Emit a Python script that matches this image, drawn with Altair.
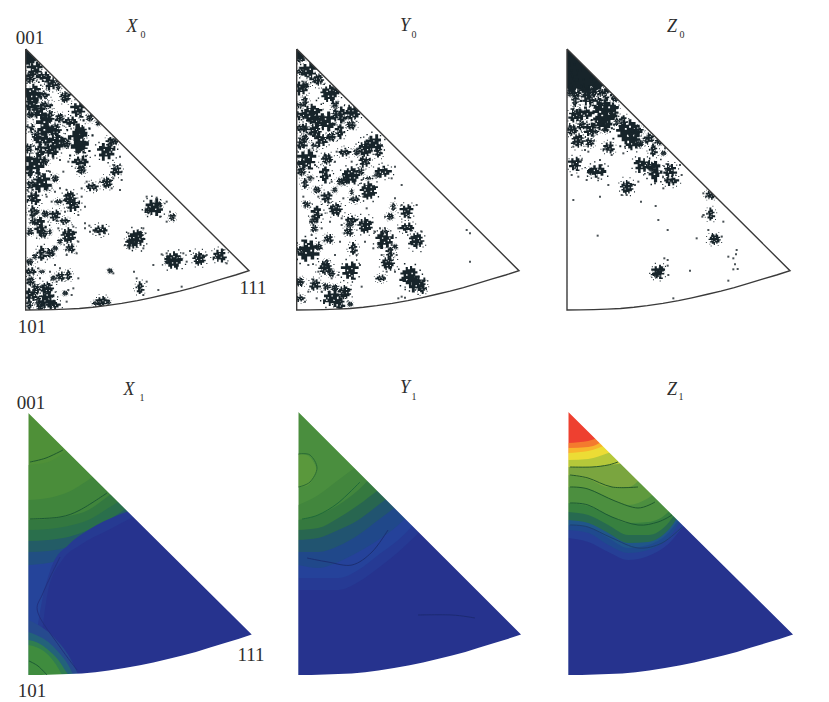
import altair as alt
import pandas as pd

# panel outlines: left edge x, apex y, bottom-left y, corner x, corner y
PANELS = {
    "X0": (25.7, 49, 310, 249, 270.7),
    "Y0": (296.7, 49, 310, 519, 270.7),
    "Z0": (567, 49, 310, 790, 270.7),
    "X1": (28.3, 413, 675, 251.7, 634.5),
    "Y1": (298.3, 412, 675, 521, 634.5),
    "Z1": (568.3, 412, 675, 793, 634.5),
}
ARC_T = [0, .06, .12, .18, .24, .3, .36, .43, .5, .56, .63, .69, .75, .81, .88, .94, 1]
ARC_RISE = [0, .002, .01, .022, .04, .07, .11, .17, .24, .31, .40, .48, .57, .67, .79, .89, 1]

# pixel-stepped marker outlines for the clusters of grains, with gaps and stray grains
OUTLINES = [
 "M-.4,-1 L-.2,-1 L-.2,-.8 L0,-.8 L0,-.6 L.2,-.6 L.2,-.9 L.4,-.9 L.4,-.7 L.6,-.7 L.6,-.4 L.9,-.4 L.9,-.2 L.7,-.2 L.7,0 L1,0 L1,.2 L.8,.2 L.8,.5 L.5,.5 L.5,.7 L.3,.7 L.3,.5 L.1,.5 L.1,.9 L-.1,.9 L-.1,.7 L-.4,.7 L-.4,.5 L-.7,.5 L-.7,.3 L-.5,.3 L-.5,.1 L-.9,.1 L-.9,-.1 L-.7,-.1 L-.7,-.4 L-.5,-.4 L-.5,-.7 L-.4,-.7 Z",
 "M-.8,-.6 L-.5,-.6 L-.5,-.9 L-.2,-.9 L-.2,-.5 L.1,-.5 L.1,-.8 L.3,-.8 L.3,-.4 L.7,-.4 L.7,-.6 L.9,-.6 L.9,-.1 L.6,-.1 L.6,.1 L.8,.1 L.8,.4 L.4,.4 L.4,.8 L.1,.8 L.1,.5 L-.2,.5 L-.2,.95 L-.5,.95 L-.5,.5 L-.8,.5 L-.8,.2 L-.55,.2 L-.55,-.1 L-1,-.1 L-1,-.35 L-.8,-.35 Z",
 "M-1,-.2 L-.7,-.2 L-.7,-.5 L-.4,-.5 L-.4,-.3 L-.1,-.3 L-.1,-.7 L.2,-.7 L.2,-.4 L.5,-.4 L.5,-.2 L1,-.2 L1,.1 L.7,.1 L.7,.35 L.35,.35 L.35,.6 L.1,.6 L.1,.35 L-.2,.35 L-.2,.7 L-.5,.7 L-.5,.35 L-.8,.35 L-.8,.1 L-1,.1 Z",
]
GRAINS = [
 [(.3,.2),(-.3,-.3),(0,.35),(.15,-.3),(-.35,.2),(1.2,-.5),(1.15,.5),(.6,.95),(-.5,1.05),(-1.25,.5),(-1.2,-.45),(-.85,-.9),(.7,-1.05),(-.7,.75)],
 [(.35,.05),(-.25,-.2),(-.05,.25),(.5,-.2),(1.15,-.25),(1.0,.65),(.65,.9),(-.75,.8),(-1.2,.4),(-1.15,-.7),(.6,-.95),(-.8,-.95),(.15,1.15)],
 [(.25,.05),(-.35,.05),(0,-.4),(-.1,.2),(1.2,.35),(.95,-.55),(.55,-.75),(-.5,-.85),(-1.15,-.55),(-1.2,.5),(-.85,.75),(.65,.75),(.2,.95),(-.15,-1)],
]

def square(x, y, h=.07):
    return f"M{x-h:.2f},{y-h:.2f} L{x-h:.2f},{y+h:.2f} L{x+h:.2f},{y+h:.2f} L{x+h:.2f},{y-h:.2f} Z"

SHAPES = [o + " " + " ".join(square(x, y) for x, y in g) for o, g in zip(OUTLINES, GRAINS)]

CROP = {"X0": (10, 15), "Y0": (285, 15), "Z0": (555, 15)}
BLOBS = {
 "X0": [(58,135,12),(75,165,16),(100,185,14),(60,190,12),(125,205,14),(145,215,8),(70,235,20),(65,265,16),(100,240,12),(165,245,12),
  (85,290,16),(120,305,12),(60,300,8),(205,285,16),(180,320,14),(240,310,8),(265,325,6),(105,335,24),(135,345,14),(80,360,10),
  (100,375,18),(140,380,18),(120,405,16),(205,370,28),(210,350,14),(215,395,14),(210,440,16),(215,465,10),(75,445,22),(60,470,12),
  (105,440,8),(95,500,20),(65,505,10),(135,490,8),(70,550,14),(68,590,12),(105,597,8),(135,603,12),(145,560,8),(180,550,14),
  (190,570,14),(90,635,18),(100,655,10),(60,650,8),(165,618,10),(175,660,16),(180,700,10),(95,715,14),(120,715,10),(75,725,6),
  (60,770,12),(62,800,10),(65,840,14),(58,870,10),(112,820,14),(110,850,18),(130,870,14),(90,875,8),(150,785,10),(175,780,10),
  (165,835,6),(275,862,12),(258,865,8),(295,862,6),(290,410,18),(300,385,12),(315,378,8),(318,465,12),(247,515,12),(290,502,12),
  (430,577,18),(415,585,8),(445,570,8),(487,607,8),(270,645,14),(380,672,18),(365,685,12),(392,660,8),(492,735,18),(475,735,8),
  (510,732,6),(567,730,14),(628,722,14),(390,818,12),(300,768,6),
  (60,340,10),(110,270,12),(150,310,10),(58,400,10),(90,410,14),(170,385,10),(60,520,8),(115,520,8),(80,590,6),(70,620,8),(120,650,6),
  (135,700,6),(150,680,6),(95,770,6),(130,790,6),(80,820,10),(85,860,10),(60,740,8)],
 "Y0": [(45,130,10),(70,170,18),(45,170,9),(100,195,12),(50,220,14),(60,260,10),(135,235,18),(155,225,10),(50,300,14),(80,295,20),
  (120,320,20),(170,300,16),(200,295,16),(150,270,8),(47,340,12),(90,350,14),(110,375,14),(165,350,14),(140,365,10),(50,385,12),
  (180,412,12),(240,400,16),(265,385,18),(280,408,12),(125,432,12),(65,435,20),(45,445,10),(50,470,10),(240,440,12),(120,480,16),
  (200,480,18),(180,495,10),(295,470,16),(250,525,18),(275,480,6),(60,505,10),(95,525,8),(125,548,12),(208,553,10),(150,525,6),
  (65,568,8),(95,598,16),(153,583,14),(88,640,8),(200,615,12),(240,630,16),(190,650,10),(325,575,8),(315,605,8),(365,590,14),
  (365,638,14),(395,678,16),(300,675,18),(315,715,12),(310,745,14),(70,705,22),(45,705,10),(100,695,8),(130,672,10),(205,700,12),
  (120,760,14),(195,768,18),(287,790,10),(375,785,20),(395,805,18),(412,818,12),(45,800,10),(90,808,12),(45,850,10),(178,830,14),
  (140,850,18),(165,865,14),(195,868,6),
  (60,340,10),(100,320,14),(60,370,8),(90,395,8),(150,300,12),(200,330,10),(60,210,8),(45,270,8),(215,410,8),(225,470,8),(200,530,6),
  (165,500,8),(75,490,6),(250,490,6),(150,820,8),(125,815,8),(125,745,8),(140,775,8),(85,615,8),(300,650,8),(285,690,6),(330,695,6),(200,625,6),(190,630,6)],
 "Z0": [(50,130,14),(70,150,30),(55,205,18),(100,200,30),(130,205,14),(155,240,12),(180,250,8),(60,300,14),(90,295,18),(150,290,26),
  (140,320,20),(175,285,14),(50,345,12),(105,345,14),(150,345,8),(70,378,14),(105,382,10),(205,320,12),(225,350,26),(235,380,16),
  (250,345,10),(280,370,12),(160,398,12),(295,405,12),(325,415,6),(60,448,14),(125,468,18),(108,470,8),(262,450,16),(300,470,20),
  (290,455,10),(345,465,14),(350,497,14),(215,515,14),(465,540,10),(467,597,12),(478,673,12),(310,772,14),(300,778,8),(320,765,6),
  (100,250,14),(60,260,10),(130,265,14),(80,330,10),(120,350,8),(255,385,8),(310,380,8),(185,320,8),(45,235,8),(65,240,10),(90,225,12),(115,230,10),(140,232,8)],
}
SPECKS = {
 "X0": [(150,435),(175,440),(130,430),(160,470),(120,470),(150,520),(135,530),(170,525),(110,545),(125,560),(215,545),(225,575),(165,590),
  (205,600),(225,625),(240,650),(190,635),(145,640),(205,680),(200,715),(170,720),(135,750),(120,770),(100,770),(150,760),(205,790),(90,790),
  (140,800),(85,760),(330,450),(335,495),(310,490),(215,520),(260,525),(230,500),(330,525),(270,500),(305,520),(470,560),(480,590),(450,605),
  (470,620),(410,545),(440,548),(400,640),(355,655),(345,690),(400,700),(455,718),(470,715),(520,715),(540,708),(530,740),(590,720),(650,745),
  (640,705),(430,750),(372,770),(295,765),(310,775),(380,790),(410,800),(400,840),(445,825),(515,815),(175,825),(185,840),(190,820),(170,860),
  (330,365),(280,395),(330,425),(335,470),(238,632),(225,640),(255,650),(285,655)],
 "Y0": [(90,450),(150,440),(155,410),(200,440),(330,455),(320,490),(235,545),(350,510),(175,550),(100,545),(245,580),(330,550),(350,570),
  (300,605),(395,570),(410,650),(380,665),(340,640),(270,650),(285,640),(240,680),(265,700),(165,680),(150,720),(215,720),(160,780),(140,790),
  (100,770),(225,750),(110,830),(70,750),(70,830),(60,860),(95,850),(335,720),(330,770),(350,845),(340,850),(360,848),(545,645),(555,655),
  (555,740),(230,815),(300,790),(305,770),(290,720),(320,690),(300,640),(135,620),(110,640),(80,660),(75,620),(170,610),(170,630),(55,545),
  (85,490),(140,500),(230,495)],
 "Z0": [(135,435),(80,435),(50,480),(70,485),(95,495),(130,490),(160,510),(200,540),(215,540),(240,510),(250,500),(135,545),(55,555),(258,560),
  (302,573),(310,615),(338,645),(128,662),(325,520),(300,505),(205,415),(170,420),(90,405),(55,395),(445,600),(460,645),(425,670),(505,620),
  (500,665),(545,705),(543,718),(535,730),(520,725),(540,748),(548,762),(535,763),(520,797),(405,767),(328,730),(338,735),(338,752),(340,780),
  (355,850),(445,535),(490,540),(442,605),(380,480),(375,450),(330,400),(140,450),(210,395),(100,410)],
}
HOLES = {
 "X0": [(55,215),(60,330),(70,400),(65,420),(120,262),(135,265),(150,280),(170,295),(165,350),(150,420),(55,345),(100,470),(60,525),(120,520)],
 "Y0": [(85,235),(100,225),(120,285),(140,290),(60,190),(160,320),(70,330),(90,400)],
 "Z0": [(45,265),(85,265),(120,265),(195,285),(270,360),(285,385),(160,240)],
}

DX = [0, 20, 40, 60, 80, 100, 120, 150, 230]
# (panel, colour, dx knots, top y, bottom y or None)
BANDS = [
 ("X0","#17242a",[0,6,12],[40,40,40],[65,62,60]),
 ("Y0","#17242a",[0,6,10],[40,40,40],[60,58,56]),
 ("Z0","#17242a",[0,6,12,18,24,30,36,42],[40]*8,[88,93,86,92,84,90,86,92]),
 ("X1","#4f9038",DX,[395]*9,None),
 ("X1","#4a8d3a",DX,[465,462,450,440,420,395,395,395,395],None),
 ("X1","#40853c",DX,[500,498,492,480,465,450,430,395,395],None),
 ("X1","#337840",DX,[520,519,516,510,496,480,460,420,395],None),
 ("X1","#2a6f4c",DX,[530,529,526,520,508,495,478,440,395],None),
 ("X1","#235c66",DX,[541,540,537,530,520,507,490,450,420],None),
 ("X1","#214f82",DX,[552,551,547,540,530,517,500,460,430],None),
 ("X1","#25449a",DX,[565,563,558,550,540,525,508,470,440],None),
 ("X1","#263a92",[6,12,24,40,60,90,120,230],[650,610,565,545,530,515,505,470],[655,660,665,675,680,680,680,680]),
 ("X1","#26338e",[14,20,34,52,80,120,230],[630,590,560,545,530,510,480],[632,635,650,675,680,680,680]),
 ("X1","#264a8e",[0,10,20,30,40,50],[620,625,632,642,655,675],[682]*6),
 ("X1","#23627a",[0,10,20,30,40,47],[632,636,642,652,665,680],[682]*6),
 ("X1","#2f7d50",[0,10,20,30,38,44],[640,643,650,660,672,680],[682]*6),
 ("X1","#3f8c3e",[0,10,20,28,34,38],[645,648,655,665,675,680],[682]*6),
 ("Y1","#4a8e3e",DX,[395]*9,None),
 ("Y1","#5a983c",[0,8,14,19],[454,455,460,470],[487,486,480,470]),
 ("Y1","#42863d",DX,[505,495,480,465,450,430,395,395,395],None),
 ("Y1","#35793f",DX,[520,515,505,490,470,455,440,395,395],None),
 ("Y1","#286650",DX,[530,528,518,505,490,475,460,430,395],None),
 ("Y1","#215470",DX,[540,538,530,520,505,490,475,445,420],None),
 ("Y1","#20488a",DX,[552,552,546,535,520,505,490,460,430],None),
 ("Y1","#25429a",DX,[565,568,562,552,540,525,505,470,440],None),
 ("Y1","#263a94",DX,[578,578,578,570,555,540,520,490,455],None),
 ("Y1","#26338e",DX,[590,590,590,582,568,552,533,500,465],None),
 ("Z1","#ee4030",DX,[395]*9,None),
 ("Z1","#f47a2e",DX,[443,441,430,410,395,395,395,395,395],None),
 ("Z1","#f8b52c",DX,[448,447,437,415,395,395,395,395,395],None),
 ("Z1","#ecdc35",DX,[453,451,443,425,410,395,395,395,395],None),
 ("Z1","#b5c83a",DX,[460,459,453,447,430,410,395,395,395],None),
 ("Z1","#7aa53f",DX,[467,467,465,462,450,430,410,395,395],None),
 ("Z1","#5f9a3e",DX,[475,479,487,487,470,450,430,395,395],None),
 ("Z1","#4c8f3f",DX,[487,489,498,505,498,480,450,410,395],None),
 ("Z1","#37803f",DX,[503,506,515,523,522,512,480,440,410],None),
 ("Z1","#276a50",DX,[512,515,525,535,535,523,490,450,420],None),
 ("Z1","#20568a",DX,[520,523,533,543,542,530,500,460,430],None),
 ("Z1","#1f4a8e",DX,[525,527,538,548,545,533,505,470,440],None),
 ("Z1","#263f96",DX,[530,533,545,553,550,538,510,480,450],None),
 ("Z1","#26338e",DX,[538,542,552,560,556,544,520,490,460],None),
]
CONTOURS = [
 ("#1f5a2e",[30,46,63],[462,458,450]),
 ("#1c5a35",[30,60,80,107],[519,517,510,493]),
 ("#22307e",[60,43,38,60,77],[557,593,613,647,670]),
 ("#1c5a35",[29,38,47],[661,666,675]),
 ("#2a6b35",[298.5,310,317,310,298.5],[454,455,468,482,487]),
 ("#1f6a3a",[302,318,338,360],[519,515,503,482]),
 ("#1c2f72",[307,328,352,372,388],[558,562,565,552,530]),
 ("#1c2a72",[418,452,475],[615,615,618]),
 ("#2a5a2a",[570,592,608,618],[467,467,465,462]),
 ("#245a2a",[570,588,612,638],[475,478,487,487]),
 ("#1f5a2e",[570,588,615,638,655],[487,489,501,508,502]),
 ("#1c5a35",[570,588,612,638,658,672],[503,505,517,525,522,515]),
 ("#1d3f70",[570,588,612,638,662,682],[525,527,538,548,543,527]),
]
LABELS = [("001",30,38),("101",32,327),("111",253,288),("001",31,403),("111",251,655),("101",32,691)]
TITLES = [("X",132,27),("Y",405,26),("Z",672,27),("X",129,390),("Y",405,388),("Z",672,390)]
SUBS = [("0",143,35),("0",414,35),("0",682,35),("1",142,398),("1",414,397),("1",681,397)]
SPREAD = 1.6

def arc_points(p):
    l, a, b, cx, cy = PANELS[p]
    return [(l + t * (cx - l), b - r * (b - cy)) for t, r in zip(ARC_T, ARC_RISE)]

band_rows, mask_rows, outline_rows, contour_rows, blob_rows, speck_rows, hole_rows = [], [], [], [], [], [], []
for i, (p, col, dxs, tops, bots) in enumerate(BANDS):
    l = PANELS[p][0]
    bots = bots or [682] * len(dxs)
    for dx, t, b in zip(dxs, tops, bots):
        band_rows.append(dict(g=i, c=col, x=min(l + dx, PANELS[p][3]), y=t, y2=b))
for p, (l, a, b, cx, cy) in PANELS.items():
    top = a - 22
    mask_rows += [dict(g=p + "t", x=l - 14, y=top, y2=b + 16), dict(g=p + "t", x=l, y=top, y2=b + 16), dict(g=p + "t", x=l + .01, y=top, y2=a),
                  dict(g=p + "t", x=cx, y=top, y2=cy), dict(g=p + "t", x=cx + .01, y=top, y2=b + 16), dict(g=p + "t", x=cx + 14, y=top, y2=b + 16)]
    arc = arc_points(p)
    mask_rows.append(dict(g=p + "b", x=l - 2, y=b, y2=b + 16))
    for x, y in arc:
        mask_rows.append(dict(g=p + "b", x=x, y=y, y2=b + 16))
    mask_rows.append(dict(g=p + "b", x=cx + 2, y=cy - 1, y2=b + 16))
    if p.endswith("0"):
        pts = [(l, a), (l, b)] + arc[1:] + [(l, a)]
        for k, (x, y) in enumerate(pts):
            outline_rows.append(dict(g=p, k=k, x=x, y=y))
for n, (col, xs, ys) in enumerate(CONTOURS):
    for k, (x, y) in enumerate(zip(xs, ys)):
        contour_rows.append(dict(g=n, k=k, x=x, y=y, c=col))
for p, (ox, oy) in CROP.items():
    for i, (zx, zy, r) in enumerate(BLOBS[p]):
        blob_rows.append(dict(x=ox + zx / 3, y=oy + zy / 3, s=(2 * SPREAD * r / 3) ** 2, a=(i % 4) * 90, sh=SHAPES[i % 3]))
    for zx, zy in SPECKS[p]:
        speck_rows.append(dict(x=ox + zx / 3, y=oy + zy / 3))
    for zx, zy in HOLES[p]:
        hole_rows.append(dict(x=ox + zx / 3, y=oy + zy / 3))

X = alt.X("x:Q", scale=alt.Scale(domain=[8, 821], nice=False, zero=False), axis=None)
Y = alt.Y("y:Q", scale=alt.Scale(domain=[700, 8], nice=False, zero=False), axis=None)

bands = alt.Chart(pd.DataFrame(band_rows)).mark_area(interpolate="monotone", strokeWidth=0).encode(
    X, Y, y2="y2:Q", color=alt.Color("c:N", scale=None), detail="g:Q")
masks = alt.Chart(pd.DataFrame(mask_rows)).mark_area(color="white", interpolate="linear").encode(
    X, Y, y2="y2:Q", detail="g:N")
blobs = alt.Chart(pd.DataFrame(blob_rows)).mark_point(filled=True, opacity=1, color="#17242a").encode(
    X, Y, size=alt.Size("s:Q", scale=None), angle=alt.Angle("a:Q", scale=None), shape=alt.Shape("sh:N", scale=None))
specks = alt.Chart(pd.DataFrame(speck_rows)).mark_point(filled=True, shape="square", opacity=0.85, size=4, color="#2a3438").encode(X, Y)
holes = alt.Chart(pd.DataFrame(hole_rows)).mark_point(filled=True, shape="square", opacity=1, size=9, color="white").encode(X, Y)
outlines = alt.Chart(pd.DataFrame(outline_rows)).mark_line(interpolate="linear", color="#3a3a3a", strokeWidth=1.4).encode(
    X, Y, detail="g:N", order="k:Q")
contours = alt.Chart(pd.DataFrame(contour_rows)).mark_line(interpolate="cardinal", strokeWidth=1).encode(
    X, Y, detail="g:Q", order="k:Q", color=alt.Color("c:N", scale=None))

def text_layer(rows, size, italic=False):
    df = pd.DataFrame(rows, columns=["t", "x", "y"])
    return alt.Chart(df).mark_text(font="Liberation Serif", fontSize=size, fontStyle="italic" if italic else "normal",
                                   color="#2e2e2e", align="center", baseline="middle").encode(X, Y, text="t:N")

chart = alt.layer(bands, blobs, specks, holes, masks, outlines, contours,
                  text_layer(LABELS, 19), text_layer(TITLES, 18, True), text_layer(SUBS, 10)).properties(
    width=813, height=692, padding=0, background="white", autosize=alt.AutoSizeParams(type="none")
).configure_view(stroke=None)
chart.save("out.html", embed_options={"renderer": "svg", "actions": False})
